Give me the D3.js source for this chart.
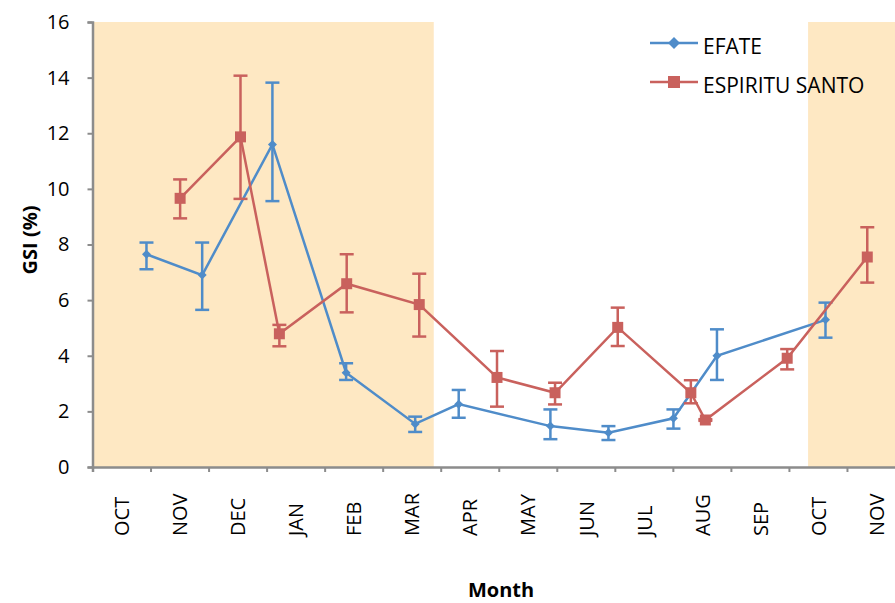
<!DOCTYPE html>
<html>
<head>
<meta charset="utf-8">
<script src="https://cdn.jsdelivr.net/npm/d3@7"></script>
<style>
  body { margin: 0; background: #fff; }
  svg { display: block; font-family: "Open Sans", sans-serif; }
</style>
</head>
<body>
<div id="chart"></div>
<script>
// month labels, one band per month
const months = ['OCT', 'NOV', 'DEC', 'JAN', 'FEB', 'MAR', 'APR', 'MAY', 'JUN', 'JUL', 'AUG', 'SEP', 'OCT', 'NOV'];
const yTicks = [0, 2, 4, 6, 8, 10, 12, 14, 16];

// sampling positions in month units (0 = start of first OCT)
const efateMonth = [0.93, 1.89, 3.10, 4.37, 5.56, 6.31, 7.89, 8.89, 10.01, 10.76, 12.63];
const efateGsi   = [7.65, 6.90, 11.60, 3.39, 1.55, 2.26, 1.47, 1.23, 1.75, 4.00, 5.29];
const efateHigh  = [8.07, 8.07, 13.82, 3.73, 1.81, 2.77, 2.07, 1.47, 2.07, 4.95, 5.91];
const efateLow   = [7.11, 5.65, 9.56, 3.13, 1.26, 1.77, 1.00, 0.97, 1.38, 3.13, 4.65];

const santoMonth = [1.51, 2.55, 3.22, 4.38, 5.63, 6.97, 7.97, 9.05, 10.31, 10.56, 11.97, 13.35];
const santoGsi   = [9.66, 11.87, 4.79, 6.59, 5.84, 3.22, 2.67, 5.02, 2.67, 1.69, 3.91, 7.55];
const santoHigh  = [10.34, 14.07, 5.11, 7.65, 6.95, 4.17, 3.03, 5.73, 3.12, 1.72, 4.24, 8.62];
const santoLow   = [8.94, 9.64, 4.34, 5.56, 4.69, 2.17, 2.25, 4.35, 2.29, 1.66, 3.51, 6.63];

// shaded seasons, month units
const seasons = [[0, 5.88], [12.33, 14]];

const width = 895, height = 603;
const margin = { top: 22, right: -10, bottom: 136, left: 92.5 };
const blue = '#4F8CC9', red = '#C9615D';

const svg = d3.select('#chart').append('svg')
  .attr('width', width)
  .attr('height', height);

const x = d3.scaleLinear()
  .domain([0, 14])
  .range([margin.left, width - margin.right]);

const y = d3.scaleLinear()
  .domain([0, 16])
  .range([height - margin.bottom, margin.top]);

// seasons
svg.append('g')
  .selectAll('rect')
  .data(seasons)
  .join('rect')
    .attr('x', d => x(d[0]))
    .attr('y', y(16))
    .attr('width', d => x(d[1]) - x(d[0]))
    .attr('height', y(0) - y(16))
    .attr('fill', '#FEE8C3');

// axes
const yAxis = svg.append('g')
  .attr('transform', `translate(${margin.left},0)`)
  .call(d3.axisLeft(y).tickValues(yTicks).tickSize(5).tickPadding(18));

const xAxis = svg.append('g')
  .attr('transform', `translate(0,${y(0)})`)
  .call(d3.axisBottom(x).tickValues(d3.range(15)).tickSize(5).tickFormat(''));

const xLabels = svg.append('g')
  .attr('transform', `translate(0,${y(0)})`)
  .call(d3.axisBottom(x)
    .tickValues(d3.range(14).map(i => i + 0.5))
    .tickSize(0)
    .tickFormat(d => months[Math.floor(d)]));

xLabels.select('.domain').remove();
xLabels.selectAll('text')
  .attr('transform', 'rotate(-90)')
  .attr('x', -69)
  .attr('y', 0)
  .attr('dy', '0.36em')
  .attr('text-anchor', 'start');

[yAxis, xAxis, xLabels].forEach(g => {
  g.selectAll('.domain').attr('stroke', '#8C8C8C').attr('stroke-width', 2.5);
  g.selectAll('.tick line').attr('stroke', '#8C8C8C').attr('stroke-width', 2);
  g.selectAll('text')
    .attr('font-family', '"Open Sans", sans-serif')
    .attr('font-size', 20)
    .attr('fill', '#000');
});

// series
function drawSeries(months, gsi, high, low, color, marker) {
  const pts = months.map((m, i) => ({ m, v: gsi[i], hi: high[i], lo: low[i] }));
  const g = svg.append('g');

  const bars = g.selectAll('.err')
    .data(pts)
    .join('g')
      .attr('class', 'err')
      .attr('stroke', color)
      .attr('stroke-width', 2.5);
  bars.append('line')
    .attr('x1', d => x(d.m)).attr('x2', d => x(d.m))
    .attr('y1', d => y(d.hi)).attr('y2', d => y(d.lo));
  bars.append('line')
    .attr('x1', d => x(d.m) - 7).attr('x2', d => x(d.m) + 7)
    .attr('y1', d => y(d.hi)).attr('y2', d => y(d.hi));
  bars.append('line')
    .attr('x1', d => x(d.m) - 7).attr('x2', d => x(d.m) + 7)
    .attr('y1', d => y(d.lo)).attr('y2', d => y(d.lo));

  const line = d3.line()
    .x(d => x(d.m))
    .y(d => y(d.v));

  g.append('path')
    .datum(pts)
    .attr('d', line)
    .attr('fill', 'none')
    .attr('stroke', color)
    .attr('stroke-width', 2.5);

  g.selectAll('.pt')
    .data(pts)
    .join('path')
      .attr('class', 'pt')
      .attr('transform', d => `translate(${x(d.m)},${y(d.v)})`)
      .attr('d', marker)
      .attr('fill', color);
}

const diamond = 'M0,-4.5L4.5,0L0,4.5L-4.5,0Z';
const square = 'M-5.5,-5.5H5.5V5.5H-5.5Z';

drawSeries(efateMonth, efateGsi, efateHigh, efateLow, blue, diamond);
drawSeries(santoMonth, santoGsi, santoHigh, santoLow, red, square);

// legend
const legendItems = [
  { name: 'EFATE', color: blue, marker: 'M0,-6L6,0L0,6L-6,0Z', y: 43 },
  { name: 'ESPIRITU SANTO', color: red, marker: 'M-6,-6H6V6H-6Z', y: 82 }
];

const legend = svg.append('g')
  .selectAll('g')
  .data(legendItems)
  .join('g')
    .attr('transform', d => `translate(650,${d.y})`);

legend.append('line')
  .attr('x1', 0).attr('x2', 48)
  .attr('stroke', d => d.color)
  .attr('stroke-width', 2.5);
legend.append('path')
  .attr('transform', 'translate(24,0)')
  .attr('d', d => d.marker)
  .attr('fill', d => d.color);
legend.append('text')
  .attr('x', 53)
  .attr('y', 10.5)
  .attr('font-size', 21)
  .text(d => d.name);

// axis titles
svg.append('text')
  .attr('x', 501)
  .attr('y', 597)
  .attr('text-anchor', 'middle')
  .attr('font-size', 20)
  .attr('font-weight', 'bold')
  .text('Month');

svg.append('text')
  .attr('transform', `translate(37,240) rotate(-90)`)
  .attr('text-anchor', 'middle')
  .attr('font-size', 20)
  .attr('font-weight', 'bold')
  .text('GSI (%)');
</script>
</body>
</html>
